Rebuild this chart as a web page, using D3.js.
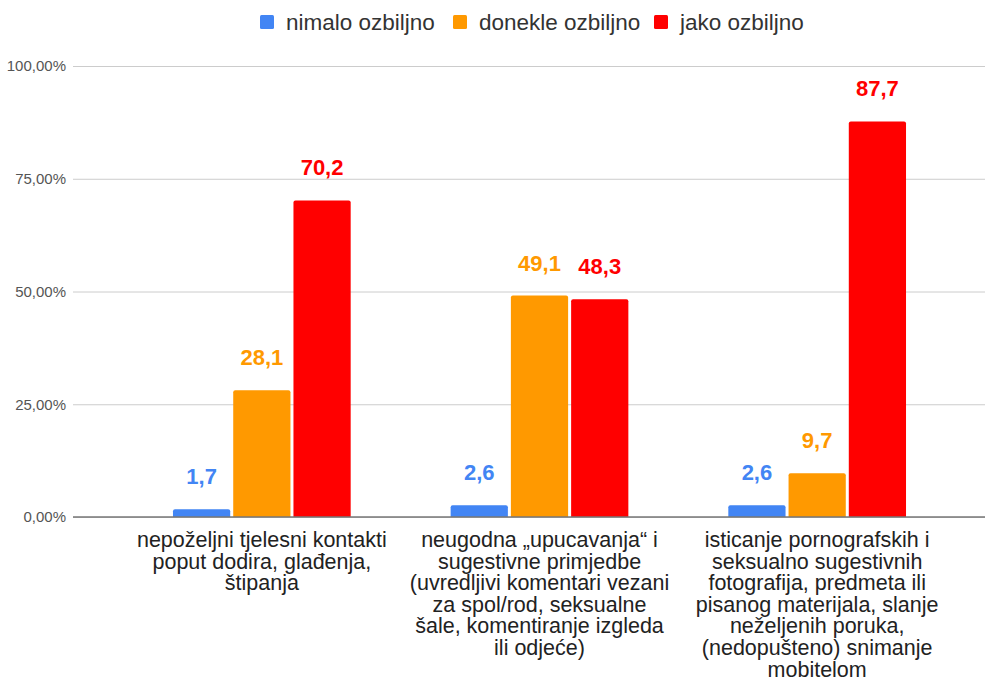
<!DOCTYPE html>
<html>
<head>
<meta charset="utf-8">
<script src="https://cdn.jsdelivr.net/npm/d3@7"></script>
<style>
  body { margin: 0; background: #fff; }
  svg { font-family: "Liberation Sans", Arial, sans-serif; }
</style>
</head>
<body>
<div id="viz"></div>
<script>
// chart data
const categories = [
  ["nepoželjni tjelesni kontakti", "poput dodira, glađenja,", "štipanja"],
  ["neugodna „upucavanja“ i", "sugestivne primjedbe", "(uvredljivi komentari vezani", "za spol/rod, seksualne", "šale, komentiranje izgleda", "ili odjeće)"],
  ["isticanje pornografskih i", "seksualno sugestivnih", "fotografija, predmeta ili", "pisanog materijala, slanje", "neželjenih poruka,", "(nedopušteno) snimanje", "mobitelom"]
];
const seriesNames = ["nimalo ozbiljno", "donekle ozbiljno", "jako ozbiljno"];
const seriesColors = ["#4285f4", "#ff9900", "#ff0000"];
const nimalo = [1.7, 2.6, 2.6];
const donekle = [28.1, 49.1, 9.7];
const jako = [70.2, 48.3, 87.7];
const yTicks = [0, 25, 50, 75, 100];

const width = 990, height = 681;
const plot = { left: 73, right: 985, top: 66, bottom: 517 };

const svg = d3.select("#viz").append("svg")
  .attr("width", width)
  .attr("height", height);

const series = [nimalo, donekle, jako];

const x0 = d3.scaleBand()
  .domain(d3.range(categories.length))
  .range([123, 956])
  .paddingInner(0.36)
  .paddingOuter(0.18);

const x1 = d3.scaleBand()
  .domain(d3.range(series.length))
  .range([0, x0.bandwidth()])
  .paddingInner(0.05);

const y = d3.scaleLinear().domain([0, 100]).range([plot.bottom, plot.top]);

const fmt = v => d3.format(".2f")(v).replace(".", ",") + "%";

// gridlines + y labels
const yAxis = svg.append("g")
  .attr("transform", `translate(${plot.left},0)`)
  .call(d3.axisLeft(y).tickValues(yTicks).tickSize(-(plot.right - plot.left)).tickPadding(7).tickFormat(fmt));
yAxis.select(".domain").remove();
yAxis.selectAll(".tick line").attr("stroke", "#cccccc");
yAxis.selectAll(".tick text")
  .attr("fill", "#555")
  .style("font-size", "15px");

// bars
const groups = svg.append("g").selectAll("g")
  .data(categories)
  .join("g")
  .attr("transform", (d, i) => `translate(${x0(i)},0)`);

function barPath(x, yTop, w, h) {
  const r = Math.min(2, h);
  return `M${x},${yTop + h}V${yTop + r}Q${x},${yTop} ${x + r},${yTop}H${x + w - r}Q${x + w},${yTop} ${x + w},${yTop + r}V${yTop + h}Z`;
}

groups.selectAll("path")
  .data((d, i) => series.map((s, k) => ({ k, v: s[i] })))
  .join("path")
  .attr("d", d => barPath(x1(d.k), y(d.v), x1.bandwidth(), y(0) - y(d.v)))
  .attr("fill", d => seriesColors[d.k]);

groups.selectAll("text.val")
  .data((d, i) => series.map((s, k) => ({ k, v: s[i] })))
  .join("text")
  .attr("class", "val")
  .attr("x", d => x1(d.k) + x1.bandwidth() / 2)
  .attr("y", d => y(d.v) - 25)
  .attr("text-anchor", "middle")
  .attr("fill", d => seriesColors[d.k])
  .style("font-size", "22px")
  .style("font-weight", "bold")
  .text(d => String(d.v).replace(".", ","));

// baseline
svg.append("line")
  .attr("x1", plot.left).attr("x2", plot.right)
  .attr("y1", y(0)).attr("y2", y(0))
  .attr("stroke", "#777").attr("stroke-width", 1.5);

// category labels
groups.append("text")
  .attr("x", x0.bandwidth() / 2)
  .attr("text-anchor", "middle")
  .attr("fill", "#222")
  .style("font-size", "21.5px")
  .selectAll("tspan")
  .data(d => d)
  .join("tspan")
  .attr("x", x0.bandwidth() / 2)
  .attr("y", (d, i) => 547 + i * 21.6)
  .text(d => d);

// legend
const legendX = [260, 453, 654];
const legend = svg.append("g").selectAll("g")
  .data(seriesNames)
  .join("g")
  .attr("transform", (d, i) => `translate(${legendX[i]},15)`);
legend.append("rect")
  .attr("width", 14).attr("height", 14).attr("rx", 1.5)
  .attr("fill", (d, i) => seriesColors[i]);
legend.append("text")
  .attr("x", 26).attr("y", 15)
  .attr("fill", "#333")
  .style("font-size", "22.5px")
  .text(d => d);
</script>
</body>
</html>
